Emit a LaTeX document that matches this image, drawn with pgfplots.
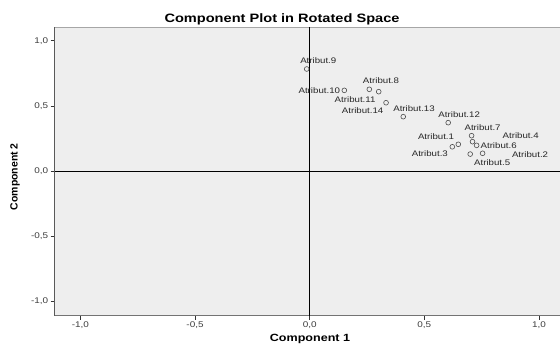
\documentclass[border=0pt]{standalone}
\usepackage{pgfplots}
\pgfplotsset{compat=1.18}
\usepackage{graphicx}
\usepackage{fontspec}
\setmainfont{Liberation Sans}
\newcommand\sx[1]{\scalebox{1.2}[1]{#1}}
\definecolor{bg}{RGB}{238,238,238}
\definecolor{tl}{RGB}{60,60,60}
\begin{document}
\begin{tikzpicture}
\begin{axis}[
  at={(54.7bp,31.3bp)}, anchor=south west,
  scale only axis, width=505.3bp, height=288.4bp,
  xmin=-1.112, xmax=1.0916, ymin=-1.1105, ymax=1.103,
  axis background/.style={fill=bg},
  axis line style={draw=none},
  clip=false,
  tick align=outside, xtick pos=left, ytick pos=left,
  major tick length=4bp,
  tick style={black!80, line width=0.7pt},
  xtick={-1,-0.5,0,0.5,1},
  xticklabels={\sx{-1,0},\sx{-0,5},\sx{0,0},\sx{0,5},\sx{1,0}},
  ytick={-1,-0.5,0,0.5,1},
  yticklabels={\sx{-1,0},\sx{-0,5},\sx{0,0},\sx{0,5},\sx{1,0}},
  ticklabel style={font=\fontsize{8.3}{9}\selectfont, text=tl},
  xticklabel style={yshift=1bp},
  yticklabel style={xshift=1bp},
]
\draw[black!35, line width=1.3pt] (rel axis cs:0,1) -- (rel axis cs:1,1);
\draw[black!55, line width=1pt] (rel axis cs:0,0) -- (rel axis cs:1,0);
\draw[black!65, line width=1pt] (rel axis cs:0,0) -- (rel axis cs:0,1);
\draw[black, line width=0.9pt] (axis cs:0,-1.1105) -- (axis cs:0,1.103);
\draw[black, line width=0.9pt] (axis cs:-1.112,0) -- (axis cs:1.0916,0);
\addplot[only marks, mark=o, mark size=2.4pt, mark options={draw=black!70, line width=0.6pt}] coordinates {
  (-0.013,0.783) (0.151,0.619) (0.301,0.609) (0.260,0.627) (0.333,0.524)
  (0.408,0.417) (0.604,0.371) (0.706,0.271) (0.710,0.225) (0.728,0.197)
  (0.648,0.205) (0.622,0.186) (0.700,0.130) (0.754,0.136)
};
\begin{scope}[every node/.style={font=\fontsize{8.1}{9}\selectfont, text=black!85, inner sep=0pt}]
\node at (axis cs:0.0375,0.846) {\sx{Atribut.9}};
\node at (axis cs:0.042,0.619) {\sx{Atribut.10}};
\node at (axis cs:0.311,0.691) {\sx{Atribut.8}};
\node at (axis cs:0.198,0.550) {\sx{Atribut.11}};
\node at (axis cs:0.231,0.460) {\sx{Atribut.14}};
\node at (axis cs:0.455,0.481) {\sx{Atribut.13}};
\node at (axis cs:0.652,0.432) {\sx{Atribut.12}};
\node at (axis cs:0.754,0.335) {\sx{Atribut.7}};
\node at (axis cs:0.920,0.271) {\sx{Atribut.4}};
\node at (axis cs:0.551,0.261) {\sx{Atribut.1}};
\node at (axis cs:0.824,0.197) {\sx{Atribut.6}};
\node at (axis cs:0.524,0.133) {\sx{Atribut.3}};
\node at (axis cs:0.961,0.123) {\sx{Atribut.2}};
\node at (axis cs:0.796,0.067) {\sx{Atribut.5}};
\end{scope}
\end{axis}
\node[font=\bfseries\fontsize{12.2}{14}\selectfont] at (282bp,327.5bp) {\sx{Component Plot in Rotated Space}};
\node[font=\bfseries\fontsize{10.5}{12}\selectfont] at (310bp,8.5bp) {\sx{Component 1}};
\node[font=\bfseries\fontsize{10.5}{12}\selectfont, rotate=90] at (15bp,170.3bp) {Component 2};
\pgfresetboundingbox
\path (0,0) rectangle (560bp,347bp);
\end{tikzpicture}
\end{document}
